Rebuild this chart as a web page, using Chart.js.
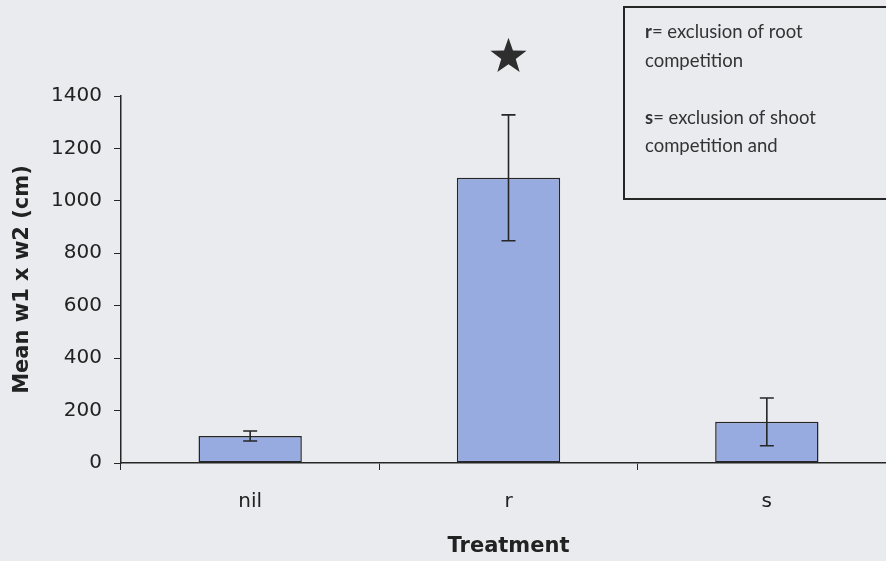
<!DOCTYPE html>
<html>
<head>
<meta charset="utf-8">
<script src="https://cdn.jsdelivr.net/npm/chart.js@4.4.1/dist/chart.umd.min.js"></script>
<style>
  html, body { margin: 0; padding: 0; background: #e9ebef; overflow: hidden; }
  #wrap { width: 896px; height: 561px; }
</style>
</head>
<body>
<div id="wrap"><canvas id="treatChart"></canvas></div>
<script>
// treatment means with +/- error
const categories = ['nil', 'r', 's'];
const means = [103, 1088, 157];
const errors = [19, 240, 91];
const yTicks = [0, 200, 400, 600, 800, 1000, 1200, 1400];

// significance marker above the r bar
const starCategory = 1;
const starValue = 1550;

const noteLines = [
    [{ t: 'r', bold: true }, { t: '= exclusion of root' }],
    [{ t: 'competition' }],
    [],
    [{ t: 's', bold: true }, { t: '= exclusion of shoot' }],
    [{ t: 'competition and' }]
];

const ink = '#262626';

const errorBars = {
    id: 'errorBars',
    afterDatasetsDraw(chart) {
        const ctx = chart.ctx;
        const y = chart.scales.y;
        const meta = chart.getDatasetMeta(0);
        ctx.save();
        ctx.strokeStyle = ink;
        ctx.lineWidth = 1.6;
        meta.data.forEach((bar, i) => {
            const top = y.getPixelForValue(means[i] + errors[i]);
            const bot = y.getPixelForValue(means[i] - errors[i]);
            ctx.beginPath();
            ctx.moveTo(bar.x, top); ctx.lineTo(bar.x, bot);
            ctx.moveTo(bar.x - 7, top); ctx.lineTo(bar.x + 7, top);
            ctx.moveTo(bar.x - 7, bot); ctx.lineTo(bar.x + 7, bot);
            ctx.stroke();
        });
        ctx.restore();
    }
};

const extras = {
    id: 'extras',
    afterDraw(chart) {
        const ctx = chart.ctx;
        // star
        const cx = chart.scales.x.getPixelForValue(starCategory);
        const cy = chart.scales.y.getPixelForValue(starValue);
        const R = 19, r = 7.6;
        ctx.save();
        ctx.fillStyle = '#2e2e2e';
        ctx.beginPath();
        for (let k = 0; k < 10; k++) {
            const rad = k % 2 === 0 ? R : r;
            const a = -Math.PI / 2 + k * Math.PI / 5;
            const px = cx + rad * Math.cos(a), py = cy + rad * Math.sin(a);
            if (k === 0) ctx.moveTo(px, py); else ctx.lineTo(px, py);
        }
        ctx.closePath();
        ctx.fill();

        // note box
        ctx.strokeStyle = ink;
        ctx.lineWidth = 2;
        ctx.strokeRect(624, 7, 300, 192);
        ctx.fillStyle = '#333';
        ctx.textBaseline = 'alphabetic';
        noteLines.forEach((parts, i) => {
            let x = 645;
            const yb = 38 + i * 28.5;
            parts.forEach(p => {
                ctx.font = (p.bold ? 'bold ' : '') + '18.5px Lato';
                ctx.fillText(p.t, x, yb);
                x += ctx.measureText(p.t).width;
            });
        });
        ctx.restore();
    }
};

new Chart(document.getElementById('treatChart'), {
    type: 'bar',
    data: {
        labels: categories,
        datasets: [{
            data: means,
            backgroundColor: '#97abe0',
            borderColor: ink,
            borderWidth: 1.5,
            borderSkipped: false,
            barPercentage: 0.4,
            categoryPercentage: 1.0
        }]
    },
    options: {
        responsive: true,
        maintainAspectRatio: false,
        animation: false,
        layout: { padding: { top: 96, left: 0, right: 0, bottom: 0 } },
        plugins: {
            legend: { display: false },
            tooltip: { enabled: false }
        },
        scales: {
            x: {
                grid: {
                    display: true,
                    drawOnChartArea: false,
                    tickLength: 7,
                    tickColor: ink,
                    offset: true
                },
                border: { color: ink, width: 1.6 },
                ticks: {
                    color: '#222',
                    font: { family: 'DejaVu Sans', size: 20 },
                    padding: 20
                },
                title: {
                    display: true,
                    text: 'Treatment',
                    color: '#222',
                    font: { family: 'DejaVu Sans', size: 21, weight: 'bold' },
                    padding: { top: 0, bottom: 2 }
                },
                afterFit(scale) { scale.height = 98; }
            },
            y: {
                min: 0,
                max: 1400,
                afterBuildTicks(scale) { scale.ticks = yTicks.map(v => ({ value: v })); },
                grid: {
                    display: true,
                    drawOnChartArea: false,
                    tickLength: 7,
                    tickColor: ink
                },
                border: { color: ink, width: 1.5 },
                ticks: {
                    color: '#222',
                    font: { family: 'DejaVu Sans', size: 20 },
                    padding: 12,
                    callback: v => String(v)
                },
                title: {
                    display: true,
                    text: 'Mean w1 x w2 (cm)',
                    color: '#222',
                    font: { family: 'DejaVu Sans', size: 21, weight: 'bold' },
                    padding: { top: 10, bottom: 0 }
                },
                afterFit(scale) { scale.width = 121; }
            }
        }
    },
    plugins: [errorBars, extras]
});
</script>
</body>
</html>
